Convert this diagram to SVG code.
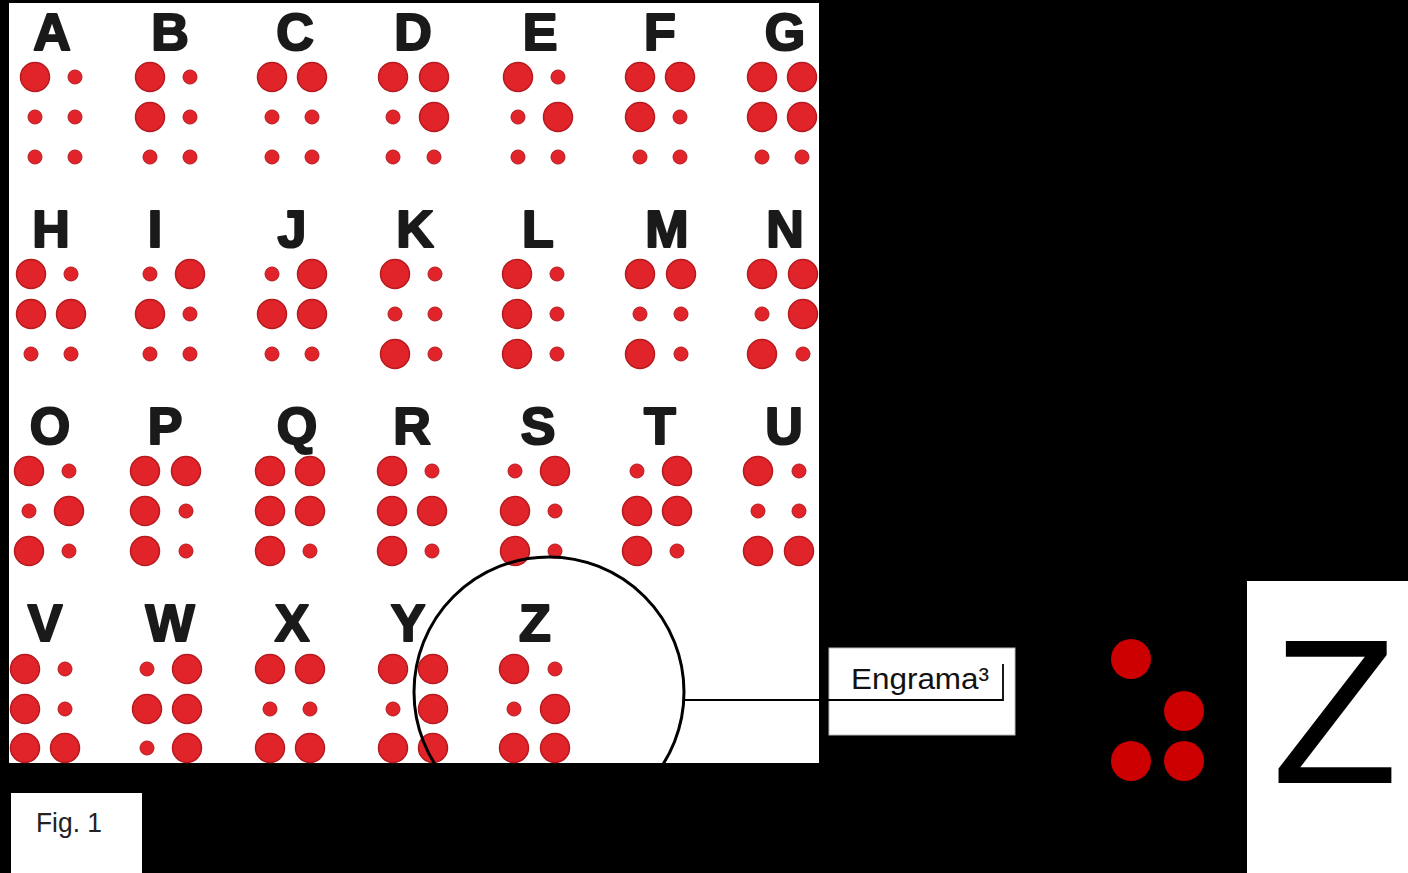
<svg xmlns="http://www.w3.org/2000/svg" width="1408" height="873" viewBox="0 0 1408 873">
<style>
.lt{font-family:"Liberation Sans",Arial,sans-serif;font-weight:bold;font-size:52px;fill:#1a1a1a;stroke:#1a1a1a;stroke-width:2.2;stroke-linejoin:round;text-anchor:middle}
.b{fill:#e1242a;stroke:#b51a1f;stroke-width:1.5}
.s{fill:#e1242a;stroke:#b51a1f;stroke-width:1}
.rd{fill:#cc0000}
.ln{stroke:#000;fill:none}
</style>
<rect x="0" y="0" width="1408" height="873" fill="#000"/>
<rect id="chart" x="9" y="3" width="810" height="760" fill="#fff"/>

<g id="cell-A"><text class="lt" x="52" y="50">A</text><circle class="b" cx="35" cy="77" r="14.5"/><circle class="s" cx="35" cy="117" r="7"/><circle class="s" cx="35" cy="157" r="7"/><circle class="s" cx="75" cy="77" r="7"/><circle class="s" cx="75" cy="117" r="7"/><circle class="s" cx="75" cy="157" r="7"/></g>
<g id="cell-B"><text class="lt" x="170" y="50">B</text><circle class="b" cx="150" cy="77" r="14.5"/><circle class="b" cx="150" cy="117" r="14.5"/><circle class="s" cx="150" cy="157" r="7"/><circle class="s" cx="190" cy="77" r="7"/><circle class="s" cx="190" cy="117" r="7"/><circle class="s" cx="190" cy="157" r="7"/></g>
<g id="cell-C"><text class="lt" x="295" y="50">C</text><circle class="b" cx="272" cy="77" r="14.5"/><circle class="s" cx="272" cy="117" r="7"/><circle class="s" cx="272" cy="157" r="7"/><circle class="b" cx="312" cy="77" r="14.5"/><circle class="s" cx="312" cy="117" r="7"/><circle class="s" cx="312" cy="157" r="7"/></g>
<g id="cell-D"><text class="lt" x="413" y="50">D</text><circle class="b" cx="393" cy="77" r="14.5"/><circle class="s" cx="393" cy="117" r="7"/><circle class="s" cx="393" cy="157" r="7"/><circle class="b" cx="434" cy="77" r="14.5"/><circle class="b" cx="434" cy="117" r="14.5"/><circle class="s" cx="434" cy="157" r="7"/></g>
<g id="cell-E"><text class="lt" x="540" y="50">E</text><circle class="b" cx="518" cy="77" r="14.5"/><circle class="s" cx="518" cy="117" r="7"/><circle class="s" cx="518" cy="157" r="7"/><circle class="s" cx="558" cy="77" r="7"/><circle class="b" cx="558" cy="117" r="14.5"/><circle class="s" cx="558" cy="157" r="7"/></g>
<g id="cell-F"><text class="lt" x="660" y="50">F</text><circle class="b" cx="640" cy="77" r="14.5"/><circle class="b" cx="640" cy="117" r="14.5"/><circle class="s" cx="640" cy="157" r="7"/><circle class="b" cx="680" cy="77" r="14.5"/><circle class="s" cx="680" cy="117" r="7"/><circle class="s" cx="680" cy="157" r="7"/></g>
<g id="cell-G"><text class="lt" x="785" y="50">G</text><circle class="b" cx="762" cy="77" r="14.5"/><circle class="b" cx="762" cy="117" r="14.5"/><circle class="s" cx="762" cy="157" r="7"/><circle class="b" cx="802" cy="77" r="14.5"/><circle class="b" cx="802" cy="117" r="14.5"/><circle class="s" cx="802" cy="157" r="7"/></g>

<g id="cell-H"><text class="lt" x="51" y="247">H</text><circle class="b" cx="31" cy="274" r="14.5"/><circle class="b" cx="31" cy="314" r="14.5"/><circle class="s" cx="31" cy="354" r="7"/><circle class="s" cx="71" cy="274" r="7"/><circle class="b" cx="71" cy="314" r="14.5"/><circle class="s" cx="71" cy="354" r="7"/></g>
<g id="cell-I"><text class="lt" x="155" y="247">I</text><circle class="s" cx="150" cy="274" r="7"/><circle class="b" cx="150" cy="314" r="14.5"/><circle class="s" cx="150" cy="354" r="7"/><circle class="b" cx="190" cy="274" r="14.5"/><circle class="s" cx="190" cy="314" r="7"/><circle class="s" cx="190" cy="354" r="7"/></g>
<g id="cell-J"><text class="lt" x="292" y="247">J</text><circle class="s" cx="272" cy="274" r="7"/><circle class="b" cx="272" cy="314" r="14.5"/><circle class="s" cx="272" cy="354" r="7"/><circle class="b" cx="312" cy="274" r="14.5"/><circle class="b" cx="312" cy="314" r="14.5"/><circle class="s" cx="312" cy="354" r="7"/></g>
<g id="cell-K"><text class="lt" x="415" y="247">K</text><circle class="b" cx="395" cy="274" r="14.5"/><circle class="s" cx="395" cy="314" r="7"/><circle class="b" cx="395" cy="354" r="14.5"/><circle class="s" cx="435" cy="274" r="7"/><circle class="s" cx="435" cy="314" r="7"/><circle class="s" cx="435" cy="354" r="7"/></g>
<g id="cell-L"><text class="lt" x="538" y="247">L</text><circle class="b" cx="517" cy="274" r="14.5"/><circle class="b" cx="517" cy="314" r="14.5"/><circle class="b" cx="517" cy="354" r="14.5"/><circle class="s" cx="557" cy="274" r="7"/><circle class="s" cx="557" cy="314" r="7"/><circle class="s" cx="557" cy="354" r="7"/></g>
<g id="cell-M"><text class="lt" x="667" y="247">M</text><circle class="b" cx="640" cy="274" r="14.5"/><circle class="s" cx="640" cy="314" r="7"/><circle class="b" cx="640" cy="354" r="14.5"/><circle class="b" cx="681" cy="274" r="14.5"/><circle class="s" cx="681" cy="314" r="7"/><circle class="s" cx="681" cy="354" r="7"/></g>
<g id="cell-N"><text class="lt" x="785" y="247">N</text><circle class="b" cx="762" cy="274" r="14.5"/><circle class="s" cx="762" cy="314" r="7"/><circle class="b" cx="762" cy="354" r="14.5"/><circle class="b" cx="803" cy="274" r="14.5"/><circle class="b" cx="803" cy="314" r="14.5"/><circle class="s" cx="803" cy="354" r="7"/></g>

<g id="cell-O"><text class="lt" x="50" y="444">O</text><circle class="b" cx="29" cy="471" r="14.5"/><circle class="s" cx="29" cy="511" r="7"/><circle class="b" cx="29" cy="551" r="14.5"/><circle class="s" cx="69" cy="471" r="7"/><circle class="b" cx="69" cy="511" r="14.5"/><circle class="s" cx="69" cy="551" r="7"/></g>
<g id="cell-P"><text class="lt" x="165" y="444">P</text><circle class="b" cx="145" cy="471" r="14.5"/><circle class="b" cx="145" cy="511" r="14.5"/><circle class="b" cx="145" cy="551" r="14.5"/><circle class="b" cx="186" cy="471" r="14.5"/><circle class="s" cx="186" cy="511" r="7"/><circle class="s" cx="186" cy="551" r="7"/></g>
<g id="cell-Q"><text class="lt" x="297" y="444">Q</text><circle class="b" cx="270" cy="471" r="14.5"/><circle class="b" cx="270" cy="511" r="14.5"/><circle class="b" cx="270" cy="551" r="14.5"/><circle class="b" cx="310" cy="471" r="14.5"/><circle class="b" cx="310" cy="511" r="14.5"/><circle class="s" cx="310" cy="551" r="7"/></g>
<g id="cell-R"><text class="lt" x="412" y="444">R</text><circle class="b" cx="392" cy="471" r="14.5"/><circle class="b" cx="392" cy="511" r="14.5"/><circle class="b" cx="392" cy="551" r="14.5"/><circle class="s" cx="432" cy="471" r="7"/><circle class="b" cx="432" cy="511" r="14.5"/><circle class="s" cx="432" cy="551" r="7"/></g>
<g id="cell-S"><text class="lt" x="538" y="444">S</text><circle class="s" cx="515" cy="471" r="7"/><circle class="b" cx="515" cy="511" r="14.5"/><circle class="b" cx="515" cy="551" r="14.5"/><circle class="b" cx="555" cy="471" r="14.5"/><circle class="s" cx="555" cy="511" r="7"/><circle class="s" cx="555" cy="551" r="7"/></g>
<g id="cell-T"><text class="lt" x="660" y="444">T</text><circle class="s" cx="637" cy="471" r="7"/><circle class="b" cx="637" cy="511" r="14.5"/><circle class="b" cx="637" cy="551" r="14.5"/><circle class="b" cx="677" cy="471" r="14.5"/><circle class="b" cx="677" cy="511" r="14.5"/><circle class="s" cx="677" cy="551" r="7"/></g>
<g id="cell-U"><text class="lt" x="784" y="444">U</text><circle class="b" cx="758" cy="471" r="14.5"/><circle class="s" cx="758" cy="511" r="7"/><circle class="b" cx="758" cy="551" r="14.5"/><circle class="s" cx="799" cy="471" r="7"/><circle class="s" cx="799" cy="511" r="7"/><circle class="b" cx="799" cy="551" r="14.5"/></g>

<g id="cell-V"><text class="lt" x="45" y="641">V</text><circle class="b" cx="25" cy="669" r="14.5"/><circle class="b" cx="25" cy="709" r="14.5"/><circle class="b" cx="25" cy="748" r="14.5"/><circle class="s" cx="65" cy="669" r="7"/><circle class="s" cx="65" cy="709" r="7"/><circle class="b" cx="65" cy="748" r="14.5"/></g>
<g id="cell-W"><text class="lt" x="170" y="641">W</text><circle class="s" cx="147" cy="669" r="7"/><circle class="b" cx="147" cy="709" r="14.5"/><circle class="s" cx="147" cy="748" r="7"/><circle class="b" cx="187" cy="669" r="14.5"/><circle class="b" cx="187" cy="709" r="14.5"/><circle class="b" cx="187" cy="748" r="14.5"/></g>
<g id="cell-X"><text class="lt" x="292" y="641">X</text><circle class="b" cx="270" cy="669" r="14.5"/><circle class="s" cx="270" cy="709" r="7"/><circle class="b" cx="270" cy="748" r="14.5"/><circle class="b" cx="310" cy="669" r="14.5"/><circle class="s" cx="310" cy="709" r="7"/><circle class="b" cx="310" cy="748" r="14.5"/></g>
<g id="cell-Y"><text class="lt" x="408" y="641">Y</text><circle class="b" cx="393" cy="669" r="14.5"/><circle class="s" cx="393" cy="709" r="7"/><circle class="b" cx="393" cy="748" r="14.5"/><circle class="b" cx="433" cy="669" r="14.5"/><circle class="b" cx="433" cy="709" r="14.5"/><circle class="b" cx="433" cy="748" r="14.5"/></g>
<g id="cell-Z"><text class="lt" x="535" y="641">Z</text><circle class="b" cx="514" cy="669" r="14.5"/><circle class="s" cx="514" cy="709" r="7"/><circle class="b" cx="514" cy="748" r="14.5"/><circle class="s" cx="555" cy="669" r="7"/><circle class="b" cx="555" cy="709" r="14.5"/><circle class="b" cx="555" cy="748" r="14.5"/></g>

<g id="highlight"><circle class="ln" cx="549" cy="692" r="135" stroke-width="3"/></g>

<g id="label-engrama">
<rect x="829" y="648" width="186" height="87" fill="#fff" stroke="#bbb" stroke-width="1"/>
<text x="851" y="689" font-family="Liberation Sans, Arial, sans-serif" font-size="30" fill="#111" textLength="138" lengthAdjust="spacingAndGlyphs">Engrama³</text>
</g>

<g id="connectors">
<polyline class="ln" points="685,700 1003,700 1003,664" stroke-width="1.8"/>
</g>

<g id="z-braille">
<circle class="rd" cx="1131" cy="659" r="20"/>
<circle class="rd" cx="1184" cy="711" r="20"/>
<circle class="rd" cx="1131" cy="761" r="20"/>
<circle class="rd" cx="1184" cy="761" r="20"/>
</g>

<g id="z-letter">
<rect x="1247" y="581" width="161" height="292" fill="#fff"/>
<text x="1335" y="783" font-family="Liberation Sans, Arial, sans-serif" font-size="206" fill="#000" text-anchor="middle">Z</text>
</g>

<g id="fig-label">
<rect x="11" y="793" width="131" height="80" fill="#fff"/>
<text x="36" y="832" font-family="Liberation Sans, Arial, sans-serif" font-size="28" fill="#222" textLength="66" lengthAdjust="spacingAndGlyphs">Fig. 1</text>
</g>
</svg>
